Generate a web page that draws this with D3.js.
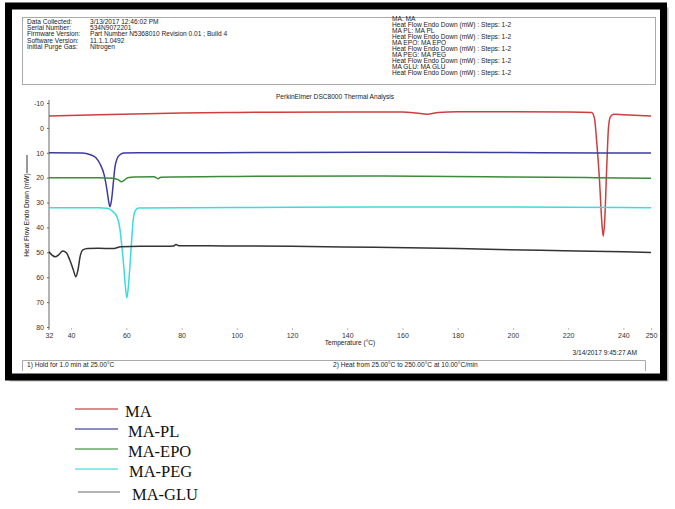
<!DOCTYPE html>
<html>
<head>
<meta charset="utf-8">
<script src="https://cdn.jsdelivr.net/npm/d3@7"></script>
<style>
  body { margin: 0; background: #fff; }
  svg { display: block; }
  .small { font-family: "Liberation Sans", Arial, sans-serif; font-size: 6.6px; fill: #222; }
  .axis text { font-family: "Liberation Sans", Arial, sans-serif; font-size: 7px; fill: #333; }
  .legend text { font-family: "Liberation Serif", "Times New Roman", serif; font-size: 16.5px; fill: #111; }
</style>
</head>
<body>
<div id="chart"></div>
<script>
// header info (left block)
const infoLabels = ["Data Collected:", "Serial Number:", "Firmware Version:", "Software Version:", "Initial Purge Gas:"];
const infoValues = ["3/13/2017 12:46:02 PM", "534N9072201", "Part Number N5368010  Revision 0.01 ; Build 4", "11.1.1.0492", "Nitrogen"];
// header info (right block)
const curveInfo = [
  "MA: MA", "Heat Flow Endo Down (mW) : Steps: 1-2",
  "MA PL: MA PL", "Heat Flow Endo Down (mW) : Steps: 1-2",
  "MA EPO: MA EPO", "Heat Flow Endo Down (mW) : Steps: 1-2",
  "MA PEG: MA PEG", "Heat Flow Endo Down (mW) : Steps: 1-2",
  "MA GLU: MA GLU", "Heat Flow Endo Down (mW) : Steps: 1-2"
];

const xTicks = [32, 40, 60, 80, 100, 120, 140, 160, 180, 200, 220, 240, 250];
const yTicks = [-10, 0, 10, 20, 30, 40, 50, 60, 70, 80];

const seriesNames = ["MA", "MA-PL", "MA-EPO", "MA-PEG", "MA-GLU"];
const seriesColors = ["#cc3f3f", "#3c3ca0", "#3c8a3c", "#3cdcdc", "#333333"];
const legendColors = ["#d06666", "#6666b4", "#66a866", "#66e4e4", "#9a9a9a"];

// temperature (°C) / heat flow (mW)
const maT = [32, 50, 80, 100, 140, 160, 165, 169, 173, 180, 200, 220, 228.5, 229.5, 230.3, 231.3, 232.2, 232.7, 233.2, 234, 234.6, 235.3, 236.5, 240, 250];
const maV = [-4.8, -5.3, -6, -6.2, -6.4, -6.4, -6.0, -5.5, -6.2, -6.5, -6.5, -6.4, -6.2, -4, 5, 20, 38, 43.5, 38, 15, 0, -4.5, -5.5, -5.3, -4.8];

const plT = [32, 44, 47, 49, 50.5, 52, 53, 53.6, 54.1, 54.7, 55.3, 55.9, 56.8, 57.7, 59, 70, 120, 170, 210, 250];
const plV = [10, 10.1, 10.8, 12, 14.5, 19, 25, 29.5, 31.7, 28.5, 22, 15.6, 12, 10.8, 10.1, 10, 9.9, 9.8, 10, 10.1];

const epoT = [32, 50, 55, 57, 58.3, 59.3, 60.5, 63, 70, 71.5, 72.5, 100, 150, 200, 230, 250];
const epoV = [20, 20, 20.2, 20.8, 21.6, 21, 20, 19.7, 19.6, 20.4, 19.8, 19.5, 19.3, 19.7, 20, 20.2];

const pegT = [32, 50, 53, 55, 56.6, 57.6, 58.4, 59.1, 59.6, 60.2, 60.8, 61.4, 62, 62.6, 63.4, 64.5, 100, 150, 200, 250];
const pegV = [32.1, 32.1, 32.3, 33.5, 35.7, 40, 47.8, 56, 63, 68.3, 63, 54, 44, 36, 33, 32.2, 32, 31.8, 31.8, 32.1];

const gluT = [32, 33, 34.3, 35.5, 37, 38.3, 39.5, 40.8, 41.7, 42.5, 43.3, 44.3, 46, 50, 55, 58, 65, 75, 77, 78, 79, 90, 120, 150, 180, 210, 240, 250];
const gluV = [49.8, 51, 51.8, 51, 49.5, 50.2, 53, 57, 59.8, 57, 51.5, 49, 48.5, 48.4, 48.5, 47.8, 47.6, 47.6, 47.5, 46.9, 47.4, 47.4, 47.6, 48, 48.5, 49.2, 49.8, 50.1];

const seriesT = [maT, plT, epoT, pegT, gluT];
const seriesV = [maV, plV, epoV, pegV, gluV];

const width = 675, height = 509;
const svg = d3.select("#chart").append("svg").attr("width", width).attr("height", height);

// outer black frame with a little shadow
svg.append("rect").attr("x", 11).attr("y", 9).attr("width", 656).attr("height", 371)
    .attr("fill", "none").attr("stroke", "#bbb").attr("stroke-width", 3);
svg.append("rect").attr("x", 8.5).attr("y", 6).attr("width", 655).attr("height", 371)
    .attr("fill", "#fff").attr("stroke", "#000").attr("stroke-width", 7);

// header box
svg.append("rect").attr("x", 22.5).attr("y", 17.5).attr("width", 633).attr("height", 67)
    .attr("fill", "none").attr("stroke", "#aaa").attr("stroke-width", 1);
infoLabels.forEach((t, i) => {
    svg.append("text").attr("class", "small").attr("x", 27).attr("y", 23.5 + i * 6.4).text(t);
    svg.append("text").attr("class", "small").attr("x", 90).attr("y", 23.5 + i * 6.4).text(infoValues[i]);
});
curveInfo.forEach((t, i) => {
    svg.append("text").attr("class", "small").attr("x", 392).attr("y", 21 + i * 6.05).text(t);
});

svg.append("text").attr("class", "small").attr("x", 335).attr("y", 99)
    .attr("text-anchor", "middle").text("PerkinElmer DSC8000 Thermal Analysis");

// scales
const x = d3.scaleLinear().domain([32, 250]).range([49, 651]);
const y = d3.scaleLinear().domain([-10, 80]).range([103, 327]);

// left axis
const yAxis = svg.append("g").attr("class", "axis")
    .attr("transform", "translate(49,0)")
    .call(d3.axisLeft(y).tickValues(yTicks).tickSize(2).tickPadding(3).tickFormat(d => String(d)));
yAxis.select(".domain").attr("stroke", "#666").attr("d", "M0," + (y(-10) - 3) + "V" + (y(80) + 3));
yAxis.selectAll(".tick line").attr("stroke", "#666");

// bottom axis (labels only, small ticks)
const xAxis = svg.append("g").attr("class", "axis")
    .attr("transform", "translate(0," + (y(80) + 1) + ")")
    .call(d3.axisBottom(x).tickValues(xTicks).tickSize(2).tickPadding(3));
xAxis.select(".domain").remove();
xAxis.selectAll(".tick line").attr("stroke", "#bbb");

svg.append("text").attr("class", "small").attr("x", 350).attr("y", 345)
    .attr("text-anchor", "middle").text("Temperature (°C)");

// y title with the little dash after it
svg.append("text").attr("class", "small")
    .attr("transform", "translate(29,215) rotate(-90)")
    .attr("text-anchor", "middle").text("Heat Flow Endo Down (mW)");
svg.append("line").attr("x1", 27).attr("x2", 27).attr("y1", 155).attr("y2", 173)
    .attr("stroke", "#333").attr("stroke-width", 1);

// curves
const line = d3.line()
    .x(d => x(d[0]))
    .y(d => y(d[1]))
    .curve(d3.curveMonotoneX);

seriesNames.forEach((name, i) => {
    const pts = seriesT[i].map((t, j) => [t, seriesV[i][j]]);
    svg.append("path")
        .attr("d", line(pts))
        .attr("fill", "none")
        .attr("stroke", seriesColors[i])
        .attr("stroke-width", 1.5);
});

// footer
svg.append("text").attr("class", "small").attr("x", 637).attr("y", 355)
    .attr("text-anchor", "end").text("3/14/2017 9:45:27 AM");
svg.append("path").attr("d", "M22.5,371V360.5H645.5V371")
    .attr("fill", "none").attr("stroke", "#aaa");
svg.append("text").attr("class", "small").attr("x", 27).attr("y", 367).text("1)  Hold for 1.0 min at 25.00°C");
svg.append("text").attr("class", "small").attr("x", 333).attr("y", 367).text("2)    Heat from 25.00°C to 250.00°C at 10.00°C/min");

// legend under the frame
const legendY = [409, 429, 449, 469, 492];
const legendX = [125, 128, 128, 129, 132];
const legend = svg.append("g").attr("class", "legend");
seriesNames.forEach((name, i) => {
    legend.append("line")
        .attr("x1", i === 4 ? 78 : 75).attr("x2", i === 4 ? 120 : 118)
        .attr("y1", legendY[i]).attr("y2", legendY[i])
        .attr("stroke", legendColors[i]).attr("stroke-width", 1.5);
    legend.append("text").attr("x", legendX[i]).attr("y", legendY[i] + 8).text(name);
});
</script>
</body>
</html>
